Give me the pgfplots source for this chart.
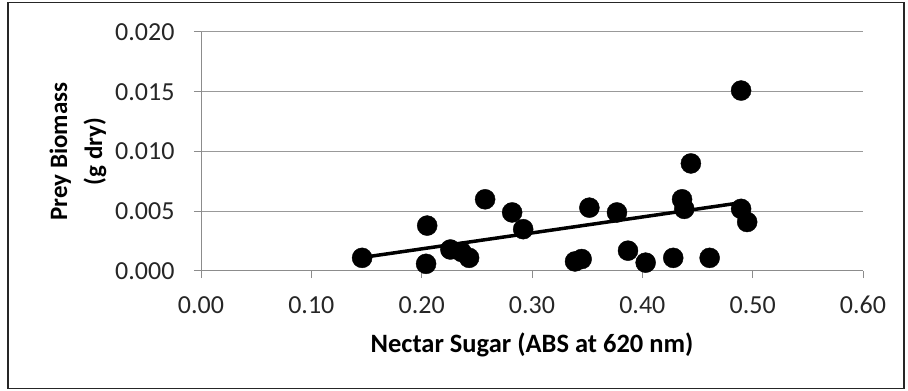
\documentclass[border=0pt]{standalone}
\usepackage{fontspec}
\setmainfont{Carlito}
\usepackage{pgfplots}
\pgfplotsset{compat=1.18}
\begin{document}
\begin{tikzpicture}[x=1pt,y=1pt]
\useasboundingbox (0,0) rectangle (908,391);
\begin{axis}[
  at={(201pt,120pt)}, anchor=south west,
  scale only axis, width=662pt, height=239pt,
  xmin=0, xmax=0.6, ymin=0, ymax=0.02,
  scaled y ticks=false, scaled x ticks=false,
  xtick={0,0.1,0.2,0.3,0.4,0.5,0.6},
  xticklabels={0.00,0.10,0.20,0.30,0.40,0.50,0.60},
  ytick={0,0.005,0.01,0.015,0.02},
  yticklabels={0.000,0.005,0.010,0.015,0.020},
  axis lines*=left,
  axis line style={draw=black!45, line width=1pt},
  ymajorgrids, grid style={draw=black!40, line width=1pt},
  tick align=outside, major tick length=7pt,
  tick style={draw=black!45, line width=1pt},
  ticklabel style={font=\fontsize{26}{30}\selectfont, text=black!85},
  xticklabel style={anchor=center, yshift=-27pt},
  yticklabel style={anchor=east, xshift=-16pt},
  xlabel={\textbf{Nectar Sugar (ABS at 620 nm)}},
  xlabel style={at={(axis description cs:0.5,-0.31)}, anchor=center, font=\fontsize{26.5}{30}\selectfont},
  ylabel={\textbf{Prey Biomass}\\\textbf{(g dry)}},
  ylabel style={at={(axis description cs:-0.186,0.5)}, anchor=center, align=center, font=\fontsize{25}{35}\selectfont},
  clip=false,
]
\addplot[only marks, mark=*, mark size=10pt, black, mark options={fill=black}] coordinates {
(0.146,0.0011)
(0.205,0.0038)
(0.204,0.0006)
(0.226,0.0018)
(0.236,0.0016)
(0.243,0.0011)
(0.2575,0.0060)
(0.282,0.0049)
(0.292,0.0035)
(0.339,0.0008)
(0.345,0.0010)
(0.352,0.0053)
(0.377,0.0049)
(0.387,0.0017)
(0.403,0.0007)
(0.428,0.0011)
(0.436,0.0060)
(0.438,0.0052)
(0.444,0.0090)
(0.461,0.0011)
(0.4895,0.0151)
(0.4895,0.0052)
(0.495,0.0041)
};
\addplot[black, line width=3.5pt] coordinates {(0.146,0.00113) (0.492,0.00575)};
\end{axis}
\draw[line width=1.5pt, black!85] (8,2.5) rectangle (904,388.5);
\end{tikzpicture}
\end{document}
